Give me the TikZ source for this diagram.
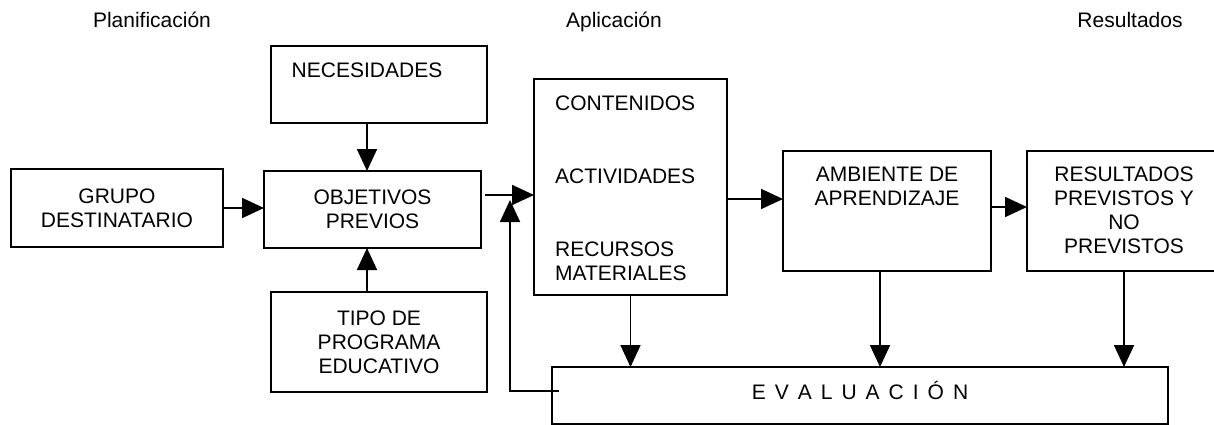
\documentclass[tikz,border=0pt]{standalone}
\usepackage{fontspec}
\setmainfont{Liberation Sans}
\usetikzlibrary{arrows.meta,calc}
\newcommand\lsp{\hspace{9pt}}
\begin{document}
\begin{tikzpicture}[x=1pt,y=-1pt,
  every node/.style={font=\fontsize{21}{24}\selectfont},
  box/.style={draw,line width=1.8pt,rectangle,inner sep=0pt,outer sep=0pt,align=center},
  txt/.style={inner sep=0pt,align=center},
  arr/.style={line width=1.8pt,-{Triangle[length=22pt,width=20pt]}},
  ln/.style={line width=1.8pt}]
\useasboundingbox (0,0) rectangle (1214,425);
% titles
\node[txt,anchor=base] (t1) at (152,28) {Planificación};
\node[txt,anchor=base] (t2) at (614,28) {Aplicación};
\node[txt,anchor=base] (t3) at (1130,28) {Resultados};
% boxes
\node[box,minimum width=212pt,minimum height=78pt] (grupo) at (117,208) {GRUPO\\DESTINATARIO};
\node[box,minimum width=217pt,minimum height=77pt] (obj) at (372.5,209.5) {OBJETIVOS\\PREVIOS};
\node[box,minimum width=216pt,minimum height=77pt] (nec) at (379,84.5) {};
\node[txt] (necT) at (367,70) {NECESIDADES};
\node[box,minimum width=216pt,minimum height=100pt] (tipo) at (379,342) {TIPO DE\\PROGRAMA\\EDUCATIVO};
\node[box,minimum width=193pt,minimum height=216pt] (cont) at (630.5,187) {};
\node[txt,anchor=west] (c1) at (555,103) {CONTENIDOS};
\node[txt,anchor=west] (c2) at (555,176) {ACTIVIDADES};
\node[txt,anchor=west,align=left] (c3) at (555,261) {RECURSOS\\MATERIALES};
\node[box,minimum width=208pt,minimum height=120pt] (amb) at (887,211) {};
\node[txt] (ambT) at (887,186.5) {AMBIENTE DE\\APRENDIZAJE};
\node[box,minimum width=194pt,minimum height=120pt] (res) at (1124,211) {};
\node[txt] (resT) at (1124,210) {RESULTADOS\\PREVISTOS Y\\NO\\PREVISTOS};
\node[box,minimum width=616pt,minimum height=57pt] (eval) at (860,395.5) {};
\node[txt,anchor=base] (evalT) at (860,399) {E\lsp V\lsp A\lsp L\lsp U\lsp A\lsp C\lsp I\lsp Ó\lsp N};
% connectors
\draw[arr] (grupo.east) -- (grupo.east -| obj.west);
\coordinate (n1) at ($(nec.south)+(-12,0)$);
\draw[arr] (n1) -- (n1 |- obj.north);
\coordinate (tp) at ($(tipo.north)+(-12,0)$);
\draw[arr] (tp) -- (tp |- obj.south);
\coordinate (o1) at ($(obj.east)+(4,-14.5)$);
\draw[arr] (o1) -- (o1 -| cont.west);
\coordinate (a1) at ($(amb.west)+(0,-12)$);
\draw[arr] (a1 -| cont.east) -- (a1);
\coordinate (r1) at ($(res.west)+(0,-4)$);
\draw[arr] (r1 -| amb.east) -- (r1);
\draw[arr] (cont.south) -- (cont.south |- eval.north);
\coordinate (a2) at ($(amb.south)+(-7,0)$);
\draw[arr] (a2) -- (a2 |- eval.north);
\draw[arr] (res.south) -- (res.south |- eval.north);
\coordinate (fbstart) at ($(eval.west)+(7,-4.5)$);
\coordinate (fbcorner) at (510,391);
\coordinate (fbend) at (510,200);
\draw[arr] (fbstart) -- (fbcorner) -- (fbend);
\end{tikzpicture}
\end{document}
